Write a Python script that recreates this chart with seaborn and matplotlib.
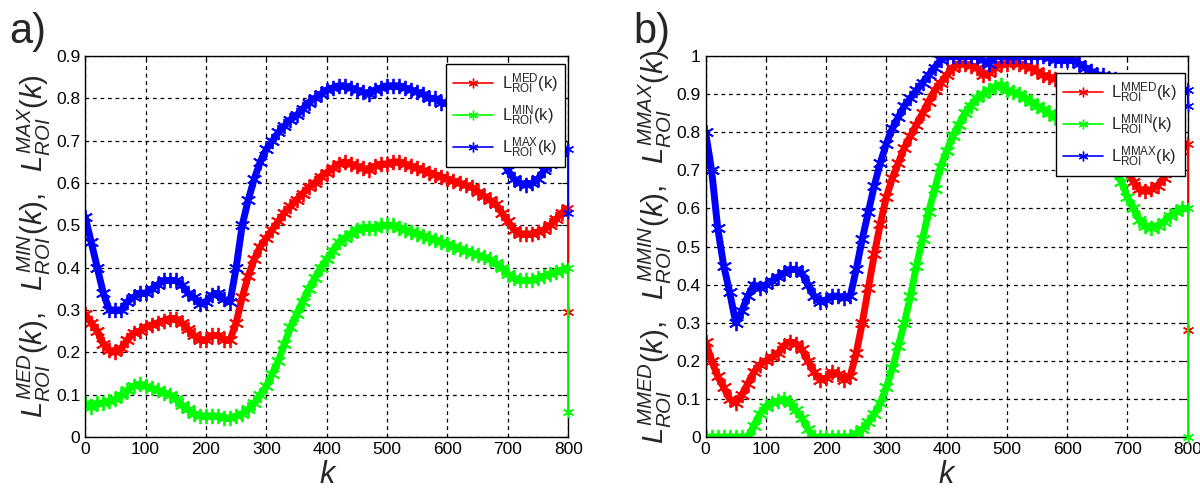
import numpy as np
import pandas as pd
import matplotlib
matplotlib.use('Agg')
import matplotlib.pyplot as plt
import seaborn as sns
from matplotlib.lines import Line2D

# k samples every 10, plus the final drop point at k = 800
k = list(range(0, 801, 10)) + [800]

# panel a)
med_a = [0.29, 0.27, 0.25, 0.22, 0.205, 0.20, 0.21, 0.23, 0.245, 0.25,
         0.26, 0.265, 0.27, 0.275, 0.28, 0.28, 0.27, 0.255, 0.24, 0.23,
         0.23, 0.24, 0.24, 0.23, 0.23, 0.27, 0.33, 0.38, 0.42, 0.45,
         0.47, 0.49, 0.51, 0.53, 0.545, 0.56, 0.575, 0.59, 0.60, 0.615,
         0.625, 0.635, 0.645, 0.65, 0.645, 0.64, 0.635, 0.63, 0.64, 0.645,
         0.645, 0.65, 0.65, 0.645, 0.64, 0.635, 0.63, 0.625, 0.62, 0.615,
         0.61, 0.605, 0.60, 0.595, 0.59, 0.58, 0.57, 0.56, 0.55, 0.53,
         0.51, 0.49, 0.48, 0.48, 0.48, 0.485, 0.49, 0.50, 0.515, 0.53,
         0.54, 0.295]
min_a = [0.08, 0.07, 0.08, 0.08, 0.085, 0.09, 0.10, 0.11, 0.12, 0.125,
         0.12, 0.115, 0.11, 0.105, 0.10, 0.09, 0.075, 0.065, 0.055, 0.05,
         0.05, 0.05, 0.05, 0.045, 0.045, 0.05, 0.055, 0.065, 0.08, 0.10,
         0.12, 0.15, 0.18, 0.22, 0.26, 0.29, 0.32, 0.35, 0.375, 0.40,
         0.42, 0.44, 0.46, 0.47, 0.48, 0.49, 0.495, 0.495, 0.495, 0.50,
         0.50, 0.50, 0.495, 0.49, 0.485, 0.48, 0.475, 0.47, 0.465, 0.46,
         0.455, 0.45, 0.445, 0.44, 0.435, 0.43, 0.425, 0.42, 0.41, 0.40,
         0.385, 0.375, 0.37, 0.37, 0.37, 0.375, 0.38, 0.385, 0.39, 0.395,
         0.40, 0.06]
max_a = [0.52, 0.46, 0.40, 0.34, 0.30, 0.30, 0.30, 0.32, 0.33, 0.34,
         0.34, 0.35, 0.36, 0.37, 0.37, 0.37, 0.36, 0.34, 0.33, 0.315,
         0.32, 0.335, 0.34, 0.325, 0.32, 0.40, 0.50, 0.56, 0.61, 0.65,
         0.68, 0.70, 0.72, 0.735, 0.75, 0.76, 0.775, 0.79, 0.80, 0.81,
         0.82, 0.825, 0.83, 0.83, 0.825, 0.82, 0.815, 0.81, 0.82, 0.825,
         0.83, 0.83, 0.83, 0.825, 0.82, 0.815, 0.81, 0.80, 0.80, 0.79,
         0.79, 0.78, 0.78, 0.77, 0.76, 0.75, 0.74, 0.72, 0.70, 0.66,
         0.63, 0.61, 0.60, 0.595, 0.60, 0.61, 0.63, 0.645, 0.66, 0.67,
         0.68, 0.53]

# panel b)
med_b = [0.25, 0.20, 0.16, 0.13, 0.10, 0.09, 0.11, 0.14, 0.17, 0.19,
         0.20, 0.21, 0.22, 0.24, 0.25, 0.245, 0.23, 0.20, 0.17, 0.15,
         0.155, 0.17, 0.165, 0.15, 0.16, 0.22, 0.30, 0.39, 0.48, 0.56,
         0.63, 0.68, 0.72, 0.76, 0.79, 0.82, 0.85, 0.88, 0.91, 0.93,
         0.95, 0.97, 0.98, 0.98, 0.975, 0.97, 0.95, 0.955, 0.97, 0.98,
         0.98, 0.985, 0.98, 0.975, 0.97, 0.96, 0.95, 0.945, 0.94, 0.935,
         0.93, 0.92, 0.91, 0.90, 0.89, 0.88, 0.86, 0.84, 0.80, 0.75,
         0.70, 0.67, 0.65, 0.645, 0.65, 0.66, 0.68, 0.70, 0.72, 0.75,
         0.77, 0.28]
min_b = [0.0, 0.0, 0.0, 0.0, 0.0, 0.0, 0.0, 0.0, 0.03, 0.06,
         0.08, 0.09, 0.095, 0.10, 0.09, 0.07, 0.05, 0.02, 0.0, 0.0,
         0.0, 0.0, 0.0, 0.0, 0.0, 0.01, 0.02, 0.04, 0.06, 0.09,
         0.13, 0.18, 0.24, 0.30, 0.37, 0.45, 0.52, 0.59, 0.65, 0.71,
         0.75, 0.79, 0.82, 0.85, 0.87, 0.89, 0.90, 0.91, 0.92, 0.925,
         0.91, 0.905, 0.90, 0.89, 0.88, 0.87, 0.86, 0.85, 0.84, 0.83,
         0.82, 0.81, 0.80, 0.79, 0.78, 0.77, 0.75, 0.73, 0.70, 0.67,
         0.63, 0.60, 0.57, 0.555, 0.55, 0.555, 0.565, 0.58, 0.59, 0.60,
         0.60, 0.0]
max_b = [0.80, 0.70, 0.55, 0.45, 0.38, 0.30, 0.33, 0.37, 0.40, 0.39,
         0.40, 0.41, 0.42, 0.43, 0.44, 0.44, 0.43, 0.40, 0.37, 0.355,
         0.36, 0.37, 0.37, 0.365, 0.37, 0.44, 0.52, 0.59, 0.66, 0.72,
         0.77, 0.81, 0.84, 0.87, 0.89, 0.91, 0.93, 0.95, 0.97, 0.99,
         1.0, 1.0, 1.0, 1.0, 1.0, 1.0, 0.99, 0.98, 1.0, 1.0,
         1.0, 1.0, 1.0, 1.0, 1.0, 1.0, 1.0, 0.995, 0.99, 0.99,
         0.99, 0.99, 0.98, 0.97, 0.96, 0.95, 0.95, 0.94, 0.94, 0.93,
         0.93, 0.92, 0.92, 0.92, 0.91, 0.91, 0.91, 0.91, 0.91, 0.91,
         0.91, 0.87]

labels_a = [r'$\mathrm{L}_{\mathrm{ROI}}^{\mathrm{MED}}\mathrm{(k)}$',
            r'$\mathrm{L}_{\mathrm{ROI}}^{\mathrm{MIN}}\mathrm{(k)}$',
            r'$\mathrm{L}_{\mathrm{ROI}}^{\mathrm{MAX}}\mathrm{(k)}$']
labels_b = [r'$\mathrm{L}_{\mathrm{ROI}}^{\mathrm{MMED}}\mathrm{(k)}$',
            r'$\mathrm{L}_{\mathrm{ROI}}^{\mathrm{MMIN}}\mathrm{(k)}$',
            r'$\mathrm{L}_{\mathrm{ROI}}^{\mathrm{MMAX}}\mathrm{(k)}$']
ylabel_a = r'$L_{ROI}^{MED}(k),\ \ L_{ROI}^{MIN}(k),\ \ L_{ROI}^{MAX}(k)$'
ylabel_b = r'$L_{ROI}^{MMED}(k),\ \ L_{ROI}^{MMIN}(k),\ \ L_{ROI}^{MMAX}(k)$'
colors = ['#ff0000', '#00ff00', '#0000ff']

sns.set_style('white')
plt.rcParams['font.family'] = ['Liberation Sans', 'DejaVu Sans']
plt.rcParams['mathtext.fontset'] = 'custom'
plt.rcParams['mathtext.rm'] = 'Liberation Sans'
plt.rcParams['mathtext.it'] = 'Liberation Sans:italic'

fig = plt.figure(figsize=(12, 4.88), dpi=100)
ax_a = fig.add_axes([0.071, 0.1045, 0.4025, 0.7805])
ax_b = fig.add_axes([0.588, 0.1045, 0.4017, 0.7805])

star = (6, 2, 0)


def draw(ax, series, labels, ymax, ylabel, legend_anchor):
    for vals, c in zip(series, colors):
        df = pd.DataFrame({'k': k, 'v': vals})
        # the curve itself
        sns.lineplot(data=df.iloc[:-1], x='k', y='v', ax=ax, estimator=None,
                     sort=False, color=c, lw=5, marker=star, markersize=11,
                     markeredgewidth=1.3, markeredgecolor=c)
        # the thin drop at the last sample
        sns.lineplot(data=df.iloc[-2:], x='k', y='v', ax=ax, estimator=None,
                     sort=False, color=c, lw=1.3, marker=star, markersize=8,
                     markeredgewidth=1.0, markeredgecolor=c, zorder=3,
                     clip_on=False)
    ax.set_xlim(0, 800)
    ax.set_ylim(0, ymax)
    ax.set_xticks(range(0, 801, 100))
    ax.set_yticks(np.round(np.arange(0, ymax + 0.001, 0.1), 1))
    ax.set_yticklabels([('%g' % t) for t in ax.get_yticks()])
    ax.grid(True, color='black', linestyle=(0, (3, 3)), lw=0.9)
    for s in ax.spines.values():
        s.set_color('black')
        s.set_linewidth(1.0)
    ax.tick_params(direction='in', length=4, labelsize=12.5, colors='black',
                   top=True, right=True)
    ax.set_xlabel('k', fontsize=22, style='italic', va='baseline')
    ax.xaxis.set_label_coords(0.5, -0.12)
    ax.set_ylabel(ylabel, fontsize=21, labelpad=2)
    handles = [Line2D([0], [0], color=c, lw=1.2, marker=star, markersize=7,
                      markeredgecolor=c) for c in colors]
    leg = ax.legend(handles, labels, loc='upper right',
                    bbox_to_anchor=legend_anchor, fontsize=12, frameon=True,
                    fancybox=False, edgecolor='black', framealpha=1,
                    handlelength=2.4, handletextpad=0.5, labelspacing=0.45,
                    borderpad=0.45, borderaxespad=0.0)
    leg.get_frame().set_linewidth(1.0)
    leg.set_zorder(5)


draw(ax_a, [med_a, min_a, max_a], labels_a, 0.9, ylabel_a, (0.994, 0.979))
draw(ax_b, [med_b, min_b, max_b], labels_b, 1.0, ylabel_b, (0.994, 0.955))

fig.text(0.008, 0.975, 'a)', fontsize=30, va='top', ha='left')
fig.text(0.528, 0.975, 'b)', fontsize=30, va='top', ha='left')

fig.savefig('out.png', dpi=100)
